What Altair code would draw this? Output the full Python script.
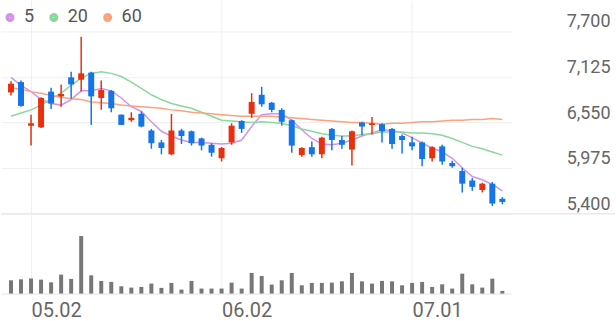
import altair as alt
import pandas as pd

# ---- data (2025 trading days) ----
dates = ["04.29", "04.30", "05.02", "05.07", "05.08", "05.09", "05.12", "05.13", "05.14", "05.15",
         "05.16", "05.19", "05.20", "05.21", "05.22", "05.23", "05.26", "05.27", "05.28", "05.29",
         "05.30", "06.02", "06.04", "06.05", "06.09", "06.10", "06.11", "06.12", "06.13", "06.16",
         "06.17", "06.18", "06.19", "06.20", "06.23", "06.24", "06.25", "06.26", "06.27", "06.30",
         "07.01", "07.02", "07.03", "07.04", "07.07", "07.08", "07.09", "07.10", "07.11", "07.14"]

opens = [6930, 7060, 6510, 6490, 6940, 6880, 7120, 7090, 7180, 6860,
         6950, 6650, 6580, 6660, 6450, 6300, 6150, 6450, 6440, 6350,
         6270, 6100, 6300, 6570, 6660, 6900, 6800, 6710, 6580, 6140,
         6240, 6150, 6470, 6330, 6210, 6550, 6520, 6530, 6470, 6380,
         6300, 6300, 6100, 6250, 6040, 5940, 5820, 5700, 5780, 5590]
highs = [7070, 7080, 6650, 6870, 6990, 7030, 7190, 7630, 7190, 7080,
         6960, 6650, 6680, 6690, 6470, 6330, 6660, 6470, 6450, 6360,
         6290, 6240, 6540, 6580, 6920, 7000, 6810, 6730, 6590, 6240,
         6310, 6370, 6480, 6380, 6450, 6560, 6620, 6540, 6480, 6400,
         6370, 6310, 6250, 6270, 6070, 5980, 5850, 5790, 5800, 5610]
lows = [6890, 6750, 6260, 6480, 6720, 6750, 6850, 6940, 6520, 6710,
        6680, 6520, 6560, 6490, 6220, 6150, 6140, 6280, 6260, 6200,
        6120, 6060, 6270, 6420, 6610, 6750, 6680, 6510, 6170, 6120,
        6120, 6100, 6200, 6220, 6010, 6390, 6400, 6300, 6220, 6160,
        6200, 6000, 6060, 6020, 5980, 5670, 5690, 5670, 5500, 5520]
closes = [7040, 6760, 6540, 6860, 6790, 6910, 7030, 7170, 6880, 6960,
          6730, 6520, 6610, 6500, 6290, 6230, 6450, 6380, 6290, 6260,
          6170, 6230, 6510, 6470, 6810, 6780, 6710, 6560, 6260, 6230,
          6150, 6360, 6330, 6270, 6440, 6500, 6540, 6440, 6280, 6330,
          6250, 6090, 6240, 6060, 6000, 5780, 5740, 5780, 5530, 5550]
volumes = [13300, 14300, 15000, 14000, 11300, 19000, 14700, 57700, 18300, 12700,
           11700, 7300, 6000, 6700, 10000, 5700, 10700, 4000, 12700, 5000,
           5000, 5000, 11000, 5000, 20700, 17700, 9000, 13300, 20700, 8300,
           10700, 10700, 11000, 12300, 20700, 12300, 10000, 12700, 12300, 8300,
           10700, 11700, 6700, 9300, 5000, 20000, 9300, 6000, 15000, 2700]
ma5 = [7120, 7020, 6940, 6840, 6790, 6770, 6840, 6950, 6950, 6980,
       6950, 6860, 6750, 6690, 6560, 6440, 6380, 6330, 6300, 6300,
       6290, 6280, 6290, 6330, 6500, 6650, 6660, 6660, 6580, 6460,
       6350, 6280, 6270, 6290, 6330, 6380, 6420, 6460, 6450, 6420,
       6360, 6290, 6230, 6180, 6100, 5980, 5870, 5830, 5770, 5690]
ma20 = [6630, 6670, 6710, 6770, 6850, 6920, 7020, 7110, 7170, 7190,
        7170, 7130, 7060, 6980, 6900, 6840, 6790, 6760, 6730, 6680,
        6630, 6580, 6570, 6560, 6550, 6560, 6550, 6540, 6510, 6470,
        6440, 6410, 6390, 6380, 6380, 6400, 6410, 6430, 6430, 6430,
        6420, 6420, 6410, 6390, 6350, 6300, 6250, 6220, 6180, 6140]
ma60 = [6990, 6970, 6940, 6920, 6890, 6870, 6850, 6840, 6810, 6800,
        6790, 6770, 6760, 6750, 6740, 6730, 6710, 6700, 6680, 6670,
        6660, 6650, 6640, 6630, 6630, 6630, 6630, 6620, 6610, 6600,
        6590, 6580, 6570, 6560, 6550, 6550, 6540, 6530, 6540, 6540,
        6550, 6560, 6560, 6570, 6580, 6580, 6590, 6590, 6600, 6590]

tick_idx = [2, 21, 40]
tick_labels = ["05.02", "06.02", "07.01"]
price_ticks = [5400, 5975, 6550, 7125, 7700]
ma_names = ["5", "20", "60"]
ma_colors = ["#d492f0", "#8bd89c", "#f9a47d"]

RED = "#e8300e"
BLUE = "#1474ea"
GRID = "#efefef"
FONT = "Roboto"

df = pd.DataFrame({
    "i": list(range(len(dates))), "date": dates,
    "open": opens, "high": highs, "low": lows, "close": closes,
    "vol": volumes, "5": ma5, "20": ma20, "60": ma60,
})

xscale = alt.Scale(domain=[-0.5, 49.4], nice=False, zero=False)
yscale = alt.Scale(domain=[5400, 8088], nice=False, zero=False)

x_top = alt.X("i:Q", scale=xscale,
              axis=alt.Axis(values=tick_idx, grid=True, gridColor=GRID, labels=False,
                            ticks=False, domain=False, title=None))

price_axis = alt.Axis(orient="right", values=price_ticks, format=",.0f", grid=True,
                      gridColor=GRID, ticks=False, tickSize=0, domain=False, title=None,
                      labelAlign="right", labelPadding=99, labelBaseline="alphabetic",
                      labelOffset=-4.5, labelFont=FONT, labelFontSize=18,
                      labelColor="#666666")

base = alt.Chart(df)
candle_color = alt.condition("datum.close >= datum.open", alt.value(RED), alt.value(BLUE))

# separator under the price panel, running under the price labels too
separator = alt.Chart(pd.DataFrame({"v": [price_ticks[0]]})).mark_rule(
    color="#eaeaea", strokeWidth=1.5).encode(
    y=alt.Y("v:Q", scale=yscale, axis=price_axis), x=alt.value(0), x2=alt.value(616))

lines = base.transform_fold(ma_names, as_=["ma", "val"]).mark_line(strokeWidth=1.5).encode(
    x=x_top,
    y=alt.Y("val:Q", scale=yscale, axis=price_axis),
    color=alt.Color("ma:N", scale=alt.Scale(domain=ma_names, range=ma_colors),
                    legend=alt.Legend(orient="none", legendX=0, legendY=8, direction="horizontal",
                                      title=None, symbolType="circle", symbolSize=16,
                                      symbolStrokeWidth=5, labelFont=FONT, labelFontSize=18,
                                      labelColor="#555555", labelOffset=5, columnPadding=7,
                                      padding=0)),
    detail="ma:N",
)

wicks = base.mark_rule(strokeWidth=1.5).encode(
    x=x_top,
    y=alt.Y("low:Q", scale=yscale, axis=price_axis),
    y2="high:Q",
    color=candle_color,
)
bodies = base.mark_bar(size=6).encode(
    x=x_top, y=alt.Y("open:Q", scale=yscale, axis=price_axis), y2="close:Q", color=candle_color)

price = alt.layer(lines, separator, wicks, bodies).properties(width=512, height=214)

volume = base.mark_bar(size=4, color="#777777").encode(
    x=alt.X("i:Q", scale=xscale,
            axis=alt.Axis(values=tick_idx, grid=True, gridColor=GRID, ticks=False, tickSize=0,
                          domain=True, domainColor="#e3e3e3", title=None,
                          labelExpr="%s[indexof(%s, datum.value)]" % (tick_labels, tick_idx),
                          labelAlign="left", labelBaseline="top", labelPadding=7,
                          labelFont=FONT, labelFontSize=20, labelColor="#666666")),
    y=alt.Y("vol:Q", scale=alt.Scale(domain=[0, 79000], nice=False), axis=None),
).properties(width=512, height=79)

chart = alt.vconcat(price, volume, spacing=0).properties(padding=0).configure_view(stroke=None)

chart.save("out.html", embed_options={"renderer": "svg", "actions": False})
